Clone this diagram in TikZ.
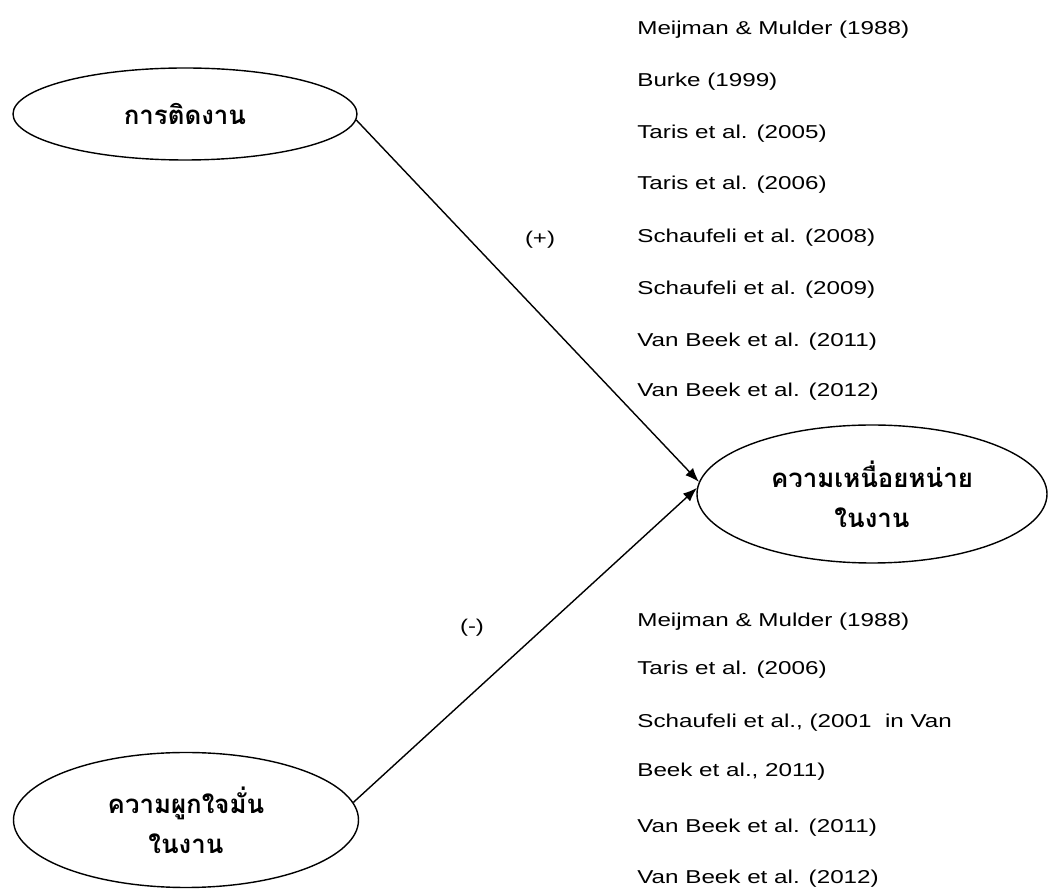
\documentclass[tikz,border=0pt]{standalone}
\usepackage{fontspec}
\setmainfont{Liberation Sans}[FakeStretch=1.3]
\newfontfamily\thaifont[Script=Thai]{Loma}
\usepackage{tikz}
\usetikzlibrary{arrows.meta,positioning,shapes.geometric}

\tikzset{
  concept/.style={draw, ellipse, line width=0.8pt, inner sep=0pt,
    align=center, font=\thaifont\fontsize{14.7}{23}\selectfont\bfseries},
  cite/.style={anchor=west, inner sep=0pt, font=\fontsize{10.6}{12}\selectfont},
  sign/.style={inner sep=0pt, font=\fontsize{10.5}{12}\selectfont},
  link/.style={-{Latex[length=8pt,width=6pt]}, line width=0.8pt}
}

\begin{document}
\begin{tikzpicture}
    \useasboundingbox (0,0) rectangle (21,-17.82);
    % Nodes
    \node[concept, minimum width=6.88cm, minimum height=1.84cm] (addict) at (3.70,-2.28) {การติดงาน};
    \node[concept, minimum width=7.0cm, minimum height=2.76cm] (burnout) at (17.44,-9.88) {ความเหนื่อยหน่าย\\ในงาน};
    \node[concept, minimum width=6.9cm, minimum height=2.70cm] (engage) at (3.72,-16.40) {ความผูกใจมั่น\\ในงาน};
    \node[sign] (plus) at (10.80,-4.80) {(+)};
    \node[sign] (minus) at (9.44,-12.56) {(-)};
    % References, upper path
    \node[cite] (up1) at (12.74,-0.60) {Meijman \& Mulder (1988)};
    \node[cite] (up2) at (12.74,-1.64) {Burke (1999)};
    \node[cite] (up3) at (12.74,-2.68) {Taris et al. (2005)};
    \node[cite] (up4) at (12.74,-3.70) {Taris et al. (2006)};
    \node[cite] (up5) at (12.74,-4.76) {Schaufeli et al. (2008)};
    \node[cite] (up6) at (12.74,-5.80) {Schaufeli et al. (2009)};
    \node[cite] (up7) at (12.74,-6.84) {Van Beek et al. (2011)};
    \node[cite] (up8) at (12.74,-7.84) {Van Beek et al. (2012)};
    % References, lower path
    \node[cite] (lo1) at (12.74,-12.44) {Meijman \& Mulder (1988)};
    \node[cite] (lo2) at (12.74,-13.40) {Taris et al. (2006)};
    \node[cite] (lo3) at (12.74,-14.46) {Schaufeli et al., (2001 \ in Van};
    \node[cite] (lo4) at (12.74,-15.44) {Beek et al., 2011)};
    \node[cite] (lo5) at (12.74,-16.56) {Van Beek et al. (2011)};
    \node[cite] (lo6) at (12.74,-17.58) {Van Beek et al. (2012)};
    % Arrows
    \draw[link] (addict.358) -- (burnout.176);
    \draw[link] (engage.6) -- (burnout.178);
\end{tikzpicture}
\end{document}
